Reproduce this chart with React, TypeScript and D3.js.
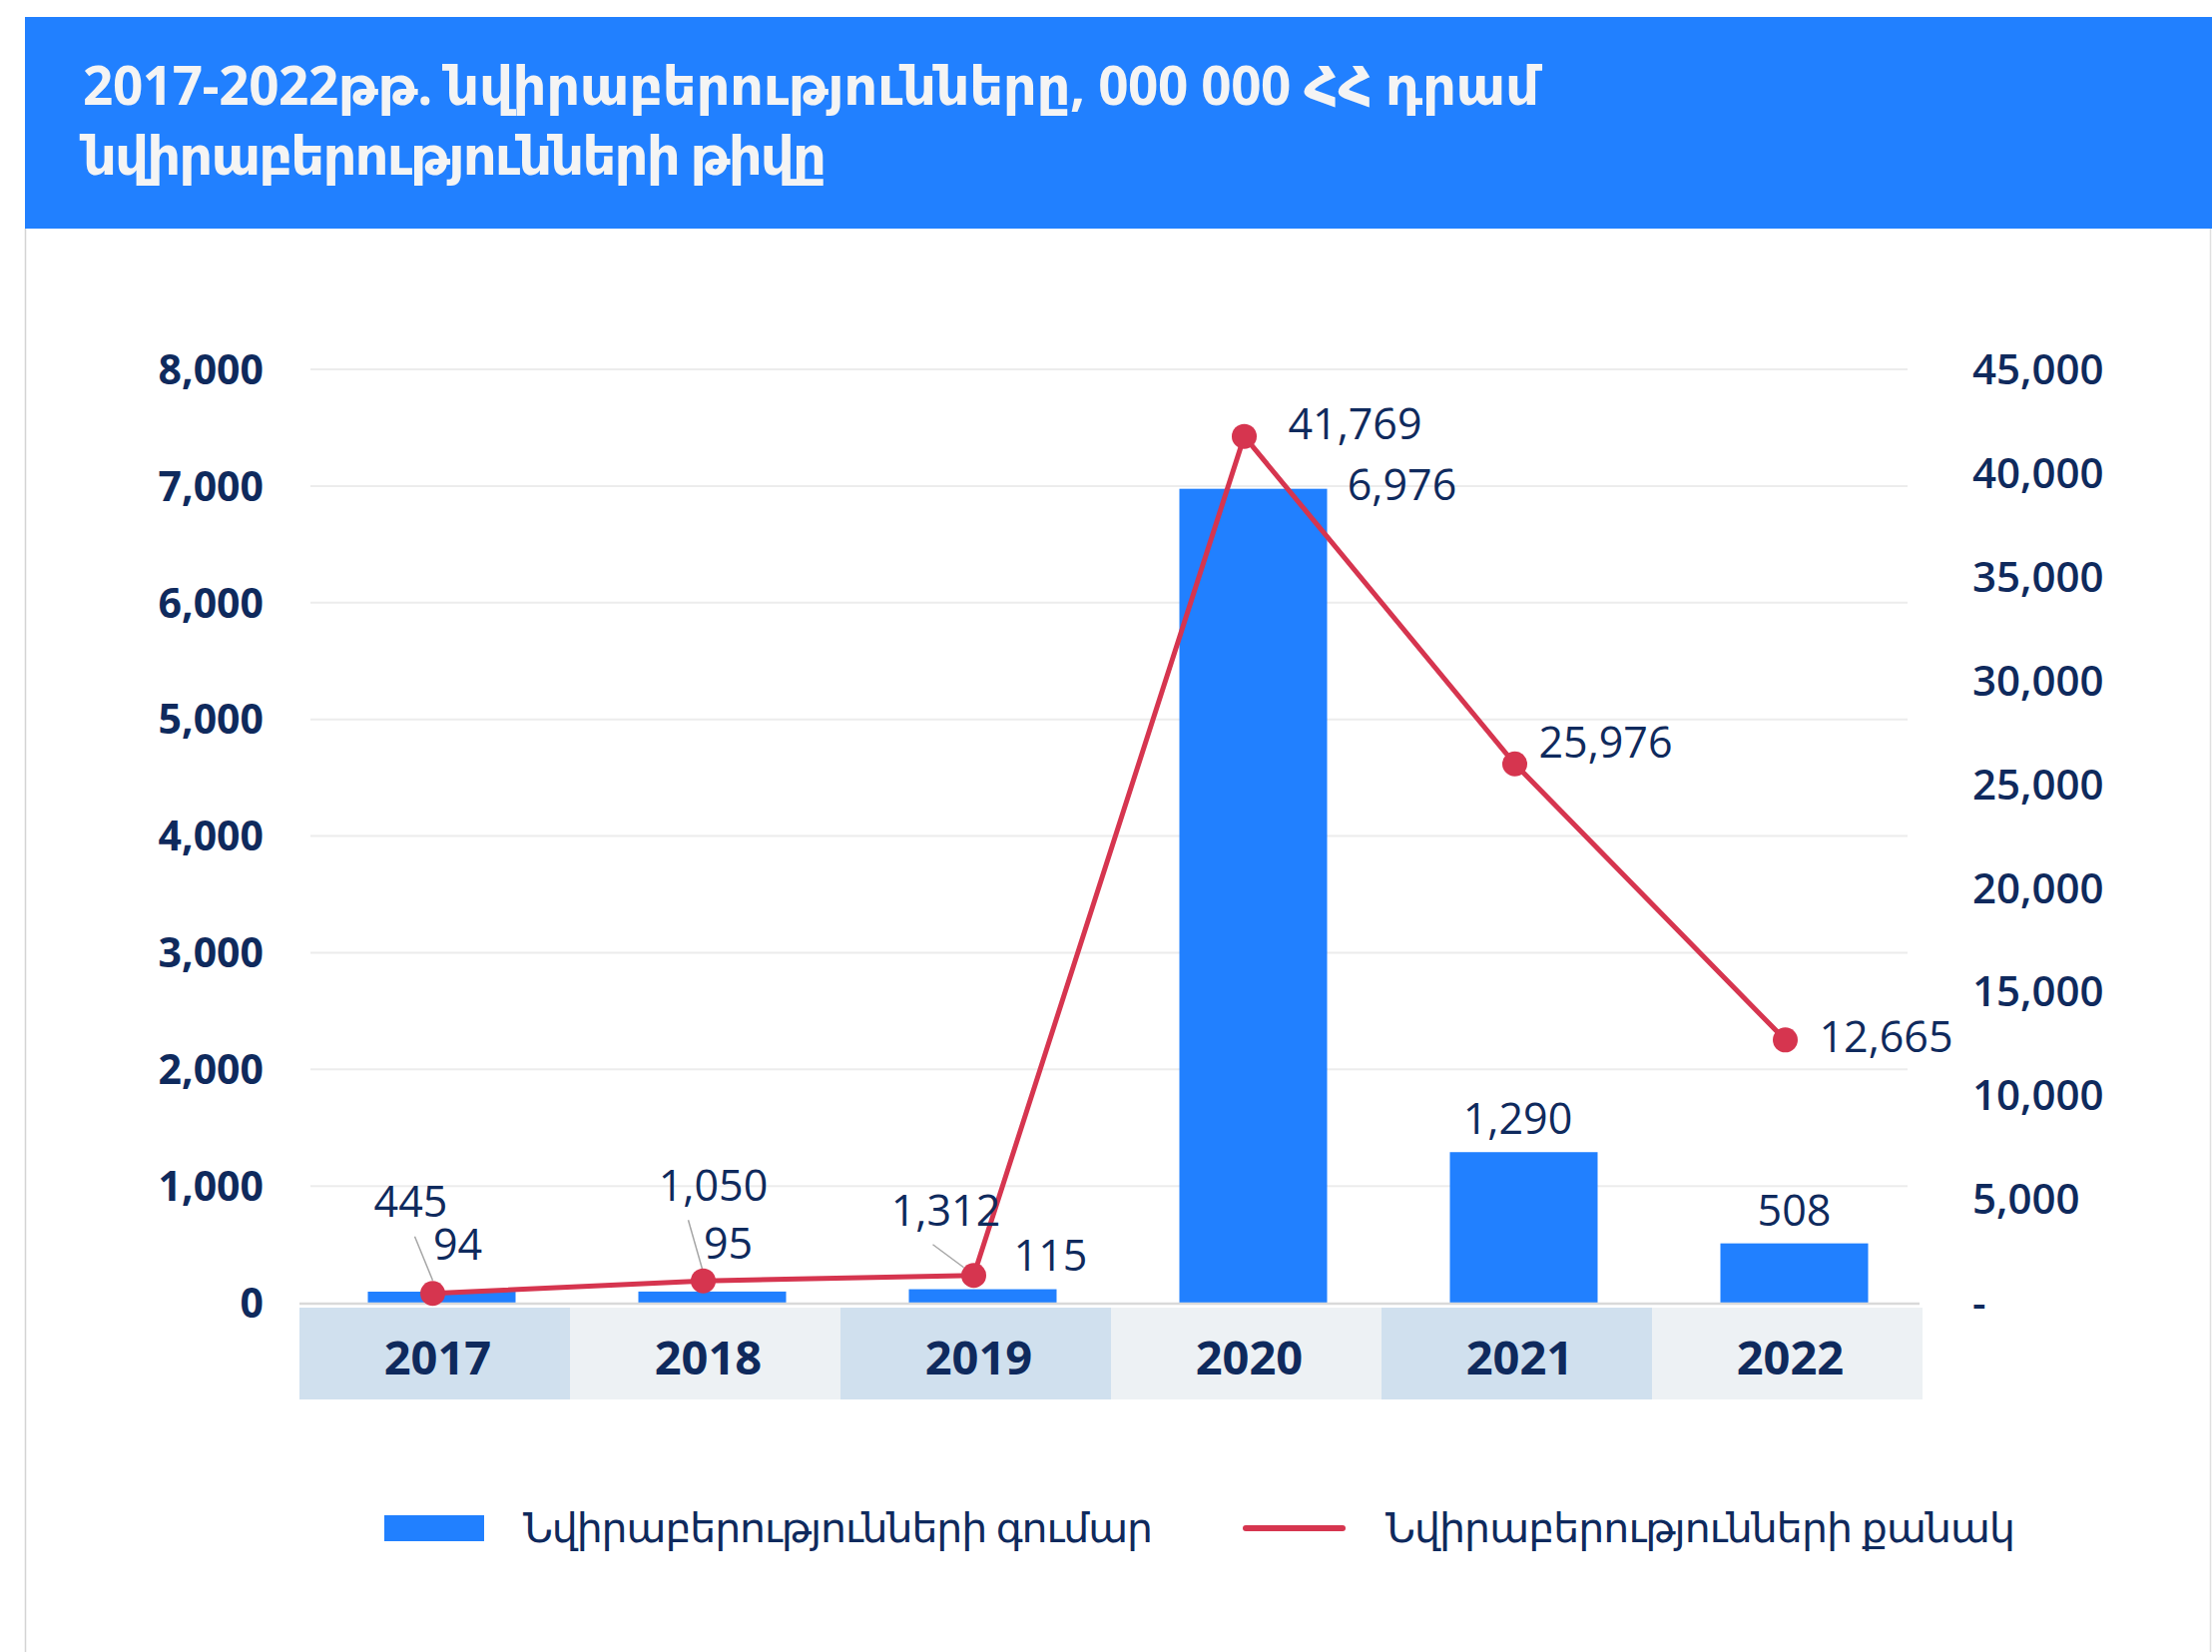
import React from 'react';
import * as d3 from 'd3';

// data
const years = ['2017', '2018', '2019', '2020', '2021', '2022'];
const donationSum = [94, 95, 115, 6976, 1290, 508]; // bars, left axis (000 000 AMD)
const donationCount = [445, 1050, 1312, 41769, 25976, 12665]; // line, right axis
const leftTicks = [0, 1000, 2000, 3000, 4000, 5000, 6000, 7000, 8000];
const rightTicks = [0, 5000, 10000, 15000, 20000, 25000, 30000, 35000, 40000, 45000];
const titleLines = [
  '2017-2022թթ. նվիրաբերությունները, 000 000 ՀՀ դրամ',
  'նվիրաբերությունների թիվը',
];
const legendLabels = ['Նվիրաբերությունների գումար', 'Նվիրաբերությունների քանակ'];

// hand placed label offsets (as in the original)
const sumLabelOffset = [[16, -32], [16, -33], [68, -19], [149, 11], [-6, -18], [0, -18]];
const countLabelOffset = [[-22, -77], [10, -80], [-28, -50], [111, 3], [91, -6], [101, 12]];
const leaderOffset = [
  [[-18, -57], [0, -13]],
  [[-15, -61], [-1, -12]],
  [[-41, -31], [-10, -8]],
];

const W = 2216, H = 1655;
const navy = '#0f2a5d';
const blue = '#2180ff';
const red = '#d6354f';
const font = "'Open Sans', 'DejaVu Sans', sans-serif";

export default function App() {
  const x = d3.scaleBand().domain(years).range([300, 1926]);
  const yLeft = d3.scaleLinear().domain([0, 8000]).range([1305, 370]);
  const yRight = d3.scaleLinear().domain([0, 45000]).range([1305, 370]);
  const fmt = d3.format(',');
  const barW = 148;
  const barShift = 7;
  const cx = (i) => (x(years[i]) || 0) + x.bandwidth() / 2;

  const pts = donationCount.map((v, i) => [cx(i) - 2, yRight(v)]);
  const line = d3.line()(pts as [number, number][]);
  const titleLen = [1459, 745];

  return (
    <svg width={W} height={H} style={{ position: 'absolute', left: 0, top: 0, background: '#fff' }} fontFamily={font}>
      {/* header */}
      <rect x={25} y={17} width={W - 25} height={212} fill={blue} />
      {titleLines.map((t, i) => (
        <text key={t} x={83} y={105 + i * 70} fontSize={53} fontWeight={700} fill="#f4f4f4"
          textLength={titleLen[i]} lengthAdjust="spacing">{t}</text>
      ))}
      <line x1={25.5} x2={25.5} y1={229} y2={H} stroke="#d4d4d4" strokeWidth={1.5} />
      <line x1={2214.5} x2={2214.5} y1={229} y2={H} stroke="#e0e0e0" strokeWidth={1.5} />

      {/* grid */}
      {leftTicks.filter((t) => t > 0).map((t) => (
        <line key={t} x1={311} x2={1911} y1={yLeft(t)} y2={yLeft(t)} stroke="#ececec" strokeWidth={2} />
      ))}

      {/* left axis */}
      {leftTicks.map((t) => (
        <text key={t} x={264} y={yLeft(t)} dy="0.36em" textAnchor="end" fontSize={41} fontWeight={700} fill={navy}>{fmt(t)}</text>
      ))}
      {/* right axis */}
      {rightTicks.map((t) => (
        <text key={t} x={1976} y={yRight(t)} dy="0.36em" fontSize={42} fontWeight={600} fill={navy}>{t === 0 ? '-' : fmt(t)}</text>
      ))}

      {/* category bands */}
      {years.map((yr, i) => (
        <g key={yr}>
          <rect x={x(yr)} y={1310} width={x.bandwidth()} height={92} fill={i % 2 === 0 ? '#d0e0ee' : '#edf1f4'} />
          <text x={cx(i) + 3} y={1377} textAnchor="middle" fontSize={47} fontWeight={700} fill={navy}>{yr}</text>
        </g>
      ))}

      {/* bars */}
      {donationSum.map((v, i) => (
        <rect key={i} x={cx(i) + barShift - barW / 2} y={yLeft(v)} width={barW} height={yLeft(0) - yLeft(v)} fill={blue} />
      ))}
      <line x1={300} x2={1923} y1={1306} y2={1306} stroke="#d9d9d9" strokeWidth={2.5} />

      {/* line */}
      <path d={line || ''} fill="none" stroke={red} strokeWidth={5} strokeLinejoin="round" />
      {leaderOffset.map((l, i) => (
        <line key={i} x1={pts[i][0] + l[0][0]} y1={pts[i][1] + l[0][1]} x2={pts[i][0] + l[1][0]} y2={pts[i][1] + l[1][1]} stroke="#a6a6a6" strokeWidth={1.5} />
      ))}
      {pts.map((p, i) => (
        <circle key={i} cx={p[0]} cy={p[1]} r={12.5} fill={red} />
      ))}

      {/* labels */}
      {donationSum.map((v, i) => (
        <text key={i} x={cx(i) + barShift + sumLabelOffset[i][0]} y={yLeft(v) + sumLabelOffset[i][1]} textAnchor="middle" fontSize={43} fill={navy}>{fmt(v)}</text>
      ))}
      {donationCount.map((v, i) => (
        <text key={i} x={pts[i][0] + countLabelOffset[i][0]} y={pts[i][1] + countLabelOffset[i][1]} textAnchor="middle" fontSize={43} fill={navy}>{fmt(v)}</text>
      ))}

      {/* legend */}
      <rect x={385} y={1518} width={100} height={26} fill={blue} />
      <text x={524} y={1545} fontSize={41} fill={navy} textLength={631} lengthAdjust="spacing">{legendLabels[0]}</text>
      <line x1={1248} x2={1345} y1={1531} y2={1531} stroke={red} strokeWidth={6} strokeLinecap="round" />
      <text x={1388} y={1545} fontSize={41} fill={navy} textLength={631} lengthAdjust="spacing">{legendLabels[1]}</text>
    </svg>
  );
}
